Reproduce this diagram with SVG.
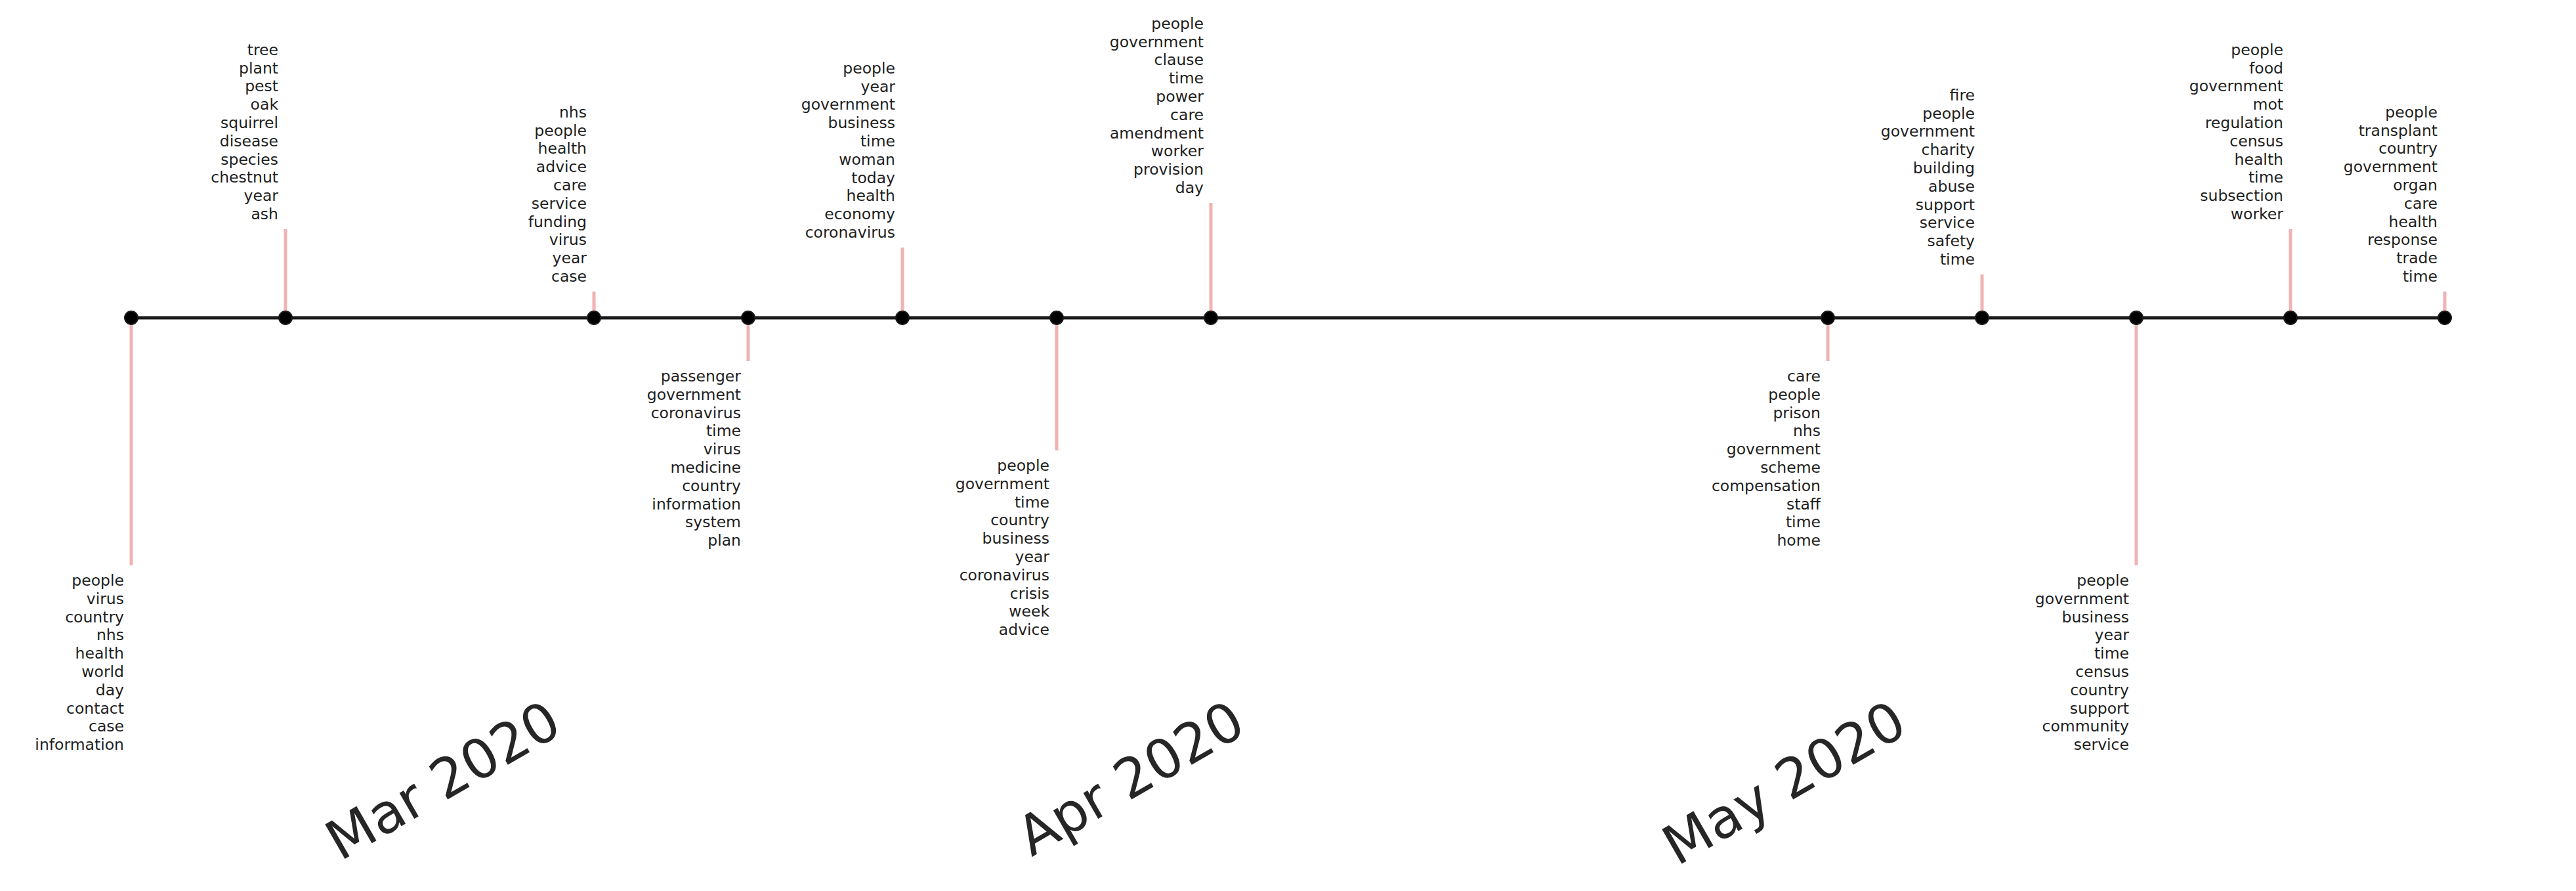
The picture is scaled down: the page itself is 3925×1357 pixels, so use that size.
<svg xmlns="http://www.w3.org/2000/svg" width="3925" height="1357" viewBox="0 0 3925 1357">
<style>
.lbl{font-family:"DejaVu Sans",sans-serif;font-size:23.5px;fill:#1e1e1e;text-anchor:end}
.month{font-family:"DejaVu Sans",sans-serif;font-size:83px;fill:#262626;text-anchor:end}
.stem{stroke:#efb3b3;stroke-width:5;fill:none}
.axis{stroke:#1a1a1a;stroke-width:5;fill:none}
.dot{fill:#000;stroke:#1a1a1a;stroke-width:2}
</style>
<rect width="3925" height="1357" fill="#fff"/>
<g id="connectors">
<line class="stem" x1="200" y1="484" x2="200" y2="861"/>
<line class="stem" x1="435" y1="484" x2="435" y2="349"/>
<line class="stem" x1="905" y1="484" x2="905" y2="444"/>
<line class="stem" x1="1140" y1="484" x2="1140" y2="550"/>
<line class="stem" x1="1375" y1="484" x2="1375" y2="377"/>
<line class="stem" x1="1610" y1="484" x2="1610" y2="686"/>
<line class="stem" x1="1845" y1="484" x2="1845" y2="309"/>
<line class="stem" x1="2785" y1="484" x2="2785" y2="550"/>
<line class="stem" x1="3020" y1="484" x2="3020" y2="418"/>
<line class="stem" x1="3255" y1="484" x2="3255" y2="861"/>
<line class="stem" x1="3490" y1="484" x2="3490" y2="349"/>
<line class="stem" x1="3725" y1="484" x2="3725" y2="444"/>
<line class="axis" x1="200" y1="484" x2="3725" y2="484"/>
</g>
<g id="n0"><circle class="dot" cx="200" cy="484" r="10"/>
<text class="lbl" y="892"><tspan x="189">people</tspan><tspan x="189" dy="27.8">virus</tspan><tspan x="189" dy="27.8">country</tspan><tspan x="189" dy="27.8">nhs</tspan><tspan x="189" dy="27.8">health</tspan><tspan x="189" dy="27.8">world</tspan><tspan x="189" dy="27.8">day</tspan><tspan x="189" dy="27.8">contact</tspan><tspan x="189" dy="27.8">case</tspan><tspan x="189" dy="27.8">information</tspan></text></g>
<g id="n1"><circle class="dot" cx="435" cy="484" r="10"/>
<text class="lbl" y="83.8"><tspan x="424">tree</tspan><tspan x="424" dy="27.8">plant</tspan><tspan x="424" dy="27.8">pest</tspan><tspan x="424" dy="27.8">oak</tspan><tspan x="424" dy="27.8">squirrel</tspan><tspan x="424" dy="27.8">disease</tspan><tspan x="424" dy="27.8">species</tspan><tspan x="424" dy="27.8">chestnut</tspan><tspan x="424" dy="27.8">year</tspan><tspan x="424" dy="27.8">ash</tspan></text></g>
<g id="n2"><circle class="dot" cx="905" cy="484" r="10"/>
<text class="lbl" y="178.8"><tspan x="894">nhs</tspan><tspan x="894" dy="27.8">people</tspan><tspan x="894" dy="27.8">health</tspan><tspan x="894" dy="27.8">advice</tspan><tspan x="894" dy="27.8">care</tspan><tspan x="894" dy="27.8">service</tspan><tspan x="894" dy="27.8">funding</tspan><tspan x="894" dy="27.8">virus</tspan><tspan x="894" dy="27.8">year</tspan><tspan x="894" dy="27.8">case</tspan></text></g>
<g id="n3"><circle class="dot" cx="1140" cy="484" r="10"/>
<text class="lbl" y="581"><tspan x="1129">passenger</tspan><tspan x="1129" dy="27.8">government</tspan><tspan x="1129" dy="27.8">coronavirus</tspan><tspan x="1129" dy="27.8">time</tspan><tspan x="1129" dy="27.8">virus</tspan><tspan x="1129" dy="27.8">medicine</tspan><tspan x="1129" dy="27.8">country</tspan><tspan x="1129" dy="27.8">information</tspan><tspan x="1129" dy="27.8">system</tspan><tspan x="1129" dy="27.8">plan</tspan></text></g>
<g id="n4"><circle class="dot" cx="1375" cy="484" r="10"/>
<text class="lbl" y="111.8"><tspan x="1364">people</tspan><tspan x="1364" dy="27.8">year</tspan><tspan x="1364" dy="27.8">government</tspan><tspan x="1364" dy="27.8">business</tspan><tspan x="1364" dy="27.8">time</tspan><tspan x="1364" dy="27.8">woman</tspan><tspan x="1364" dy="27.8">today</tspan><tspan x="1364" dy="27.8">health</tspan><tspan x="1364" dy="27.8">economy</tspan><tspan x="1364" dy="27.8">coronavirus</tspan></text></g>
<g id="n5"><circle class="dot" cx="1610" cy="484" r="10"/>
<text class="lbl" y="717"><tspan x="1599">people</tspan><tspan x="1599" dy="27.8">government</tspan><tspan x="1599" dy="27.8">time</tspan><tspan x="1599" dy="27.8">country</tspan><tspan x="1599" dy="27.8">business</tspan><tspan x="1599" dy="27.8">year</tspan><tspan x="1599" dy="27.8">coronavirus</tspan><tspan x="1599" dy="27.8">crisis</tspan><tspan x="1599" dy="27.8">week</tspan><tspan x="1599" dy="27.8">advice</tspan></text></g>
<g id="n6"><circle class="dot" cx="1845" cy="484" r="10"/>
<text class="lbl" y="43.8"><tspan x="1834">people</tspan><tspan x="1834" dy="27.8">government</tspan><tspan x="1834" dy="27.8">clause</tspan><tspan x="1834" dy="27.8">time</tspan><tspan x="1834" dy="27.8">power</tspan><tspan x="1834" dy="27.8">care</tspan><tspan x="1834" dy="27.8">amendment</tspan><tspan x="1834" dy="27.8">worker</tspan><tspan x="1834" dy="27.8">provision</tspan><tspan x="1834" dy="27.8">day</tspan></text></g>
<g id="n7"><circle class="dot" cx="2785" cy="484" r="10"/>
<text class="lbl" y="581"><tspan x="2774">care</tspan><tspan x="2774" dy="27.8">people</tspan><tspan x="2774" dy="27.8">prison</tspan><tspan x="2774" dy="27.8">nhs</tspan><tspan x="2774" dy="27.8">government</tspan><tspan x="2774" dy="27.8">scheme</tspan><tspan x="2774" dy="27.8">compensation</tspan><tspan x="2774" dy="27.8">staff</tspan><tspan x="2774" dy="27.8">time</tspan><tspan x="2774" dy="27.8">home</tspan></text></g>
<g id="n8"><circle class="dot" cx="3020" cy="484" r="10"/>
<text class="lbl" y="152.8"><tspan x="3009">fire</tspan><tspan x="3009" dy="27.8">people</tspan><tspan x="3009" dy="27.8">government</tspan><tspan x="3009" dy="27.8">charity</tspan><tspan x="3009" dy="27.8">building</tspan><tspan x="3009" dy="27.8">abuse</tspan><tspan x="3009" dy="27.8">support</tspan><tspan x="3009" dy="27.8">service</tspan><tspan x="3009" dy="27.8">safety</tspan><tspan x="3009" dy="27.8">time</tspan></text></g>
<g id="n9"><circle class="dot" cx="3255" cy="484" r="10"/>
<text class="lbl" y="892"><tspan x="3244">people</tspan><tspan x="3244" dy="27.8">government</tspan><tspan x="3244" dy="27.8">business</tspan><tspan x="3244" dy="27.8">year</tspan><tspan x="3244" dy="27.8">time</tspan><tspan x="3244" dy="27.8">census</tspan><tspan x="3244" dy="27.8">country</tspan><tspan x="3244" dy="27.8">support</tspan><tspan x="3244" dy="27.8">community</tspan><tspan x="3244" dy="27.8">service</tspan></text></g>
<g id="n10"><circle class="dot" cx="3490" cy="484" r="10"/>
<text class="lbl" y="83.8"><tspan x="3479">people</tspan><tspan x="3479" dy="27.8">food</tspan><tspan x="3479" dy="27.8">government</tspan><tspan x="3479" dy="27.8">mot</tspan><tspan x="3479" dy="27.8">regulation</tspan><tspan x="3479" dy="27.8">census</tspan><tspan x="3479" dy="27.8">health</tspan><tspan x="3479" dy="27.8">time</tspan><tspan x="3479" dy="27.8">subsection</tspan><tspan x="3479" dy="27.8">worker</tspan></text></g>
<g id="n11"><circle class="dot" cx="3725" cy="484" r="10"/>
<text class="lbl" y="178.8"><tspan x="3714">people</tspan><tspan x="3714" dy="27.8">transplant</tspan><tspan x="3714" dy="27.8">country</tspan><tspan x="3714" dy="27.8">government</tspan><tspan x="3714" dy="27.8">organ</tspan><tspan x="3714" dy="27.8">care</tspan><tspan x="3714" dy="27.8">health</tspan><tspan x="3714" dy="27.8">response</tspan><tspan x="3714" dy="27.8">trade</tspan><tspan x="3714" dy="27.8">time</tspan></text></g>
<g id="axis-labels">
<text class="month" transform="translate(860,1115) rotate(-30)">Mar 2020</text>
<text class="month" transform="translate(1902,1115) rotate(-30)">Apr 2020</text>
<text class="month" transform="translate(2910,1115) rotate(-30)">May 2020</text>
</g>
</svg>
